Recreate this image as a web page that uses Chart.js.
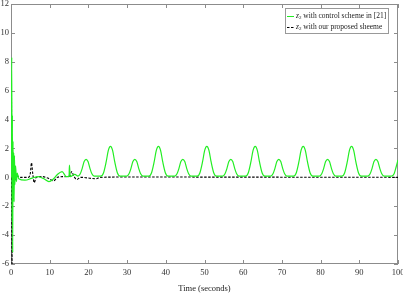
<!DOCTYPE html>
<html lang="en">
<head>
  <meta charset="UTF-8">
  <title>z2 response</title>
  <script src="https://cdn.jsdelivr.net/npm/chart.js"></script>
  <style>
    html, body { margin: 0; padding: 0; background: #fff; }
    #wrap { position: relative; width: 403px; height: 294px; }
  </style>
</head>
<body>
  <div id="wrap"><canvas id="c"></canvas></div>
  <script>
    // z2 with control scheme in [21] (green)
    const greenTime = [
      0, 0.2, 0.28, 0.36, 0.44, 0.52, 0.6, 0.7, 0.8, 0.9, 1.0, 1.2, 1.4, 1.6, 2.0, 3.6, 5.5, 7.0, 8.5, 9.8, 11.0, 12.0, 13.2, 14.3, 15.0, 15.1, 15.3, 16.5,
      17.3, 17.9, 18.4, 18.9, 19.4, 19.9, 20.4, 20.9, 21.5,
      23.2, 23.9, 24.6, 25.15, 25.7, 26.25, 26.8, 27.5, 28.2,
      29.9, 30.5, 31.0, 31.5, 32.0, 32.5, 33.0, 33.5, 34.1,
      35.6, 36.3, 37.0, 37.55, 38.1, 38.65, 39.2, 39.9, 40.6,
      42.3, 42.9, 43.4, 43.9, 44.4, 44.9, 45.4, 45.9, 46.5,
      48.1, 48.8, 49.5, 50.05, 50.6, 51.15, 51.7, 52.4, 53.1,
      54.7, 55.3, 55.8, 56.3, 56.8, 57.3, 57.8, 58.3, 58.9,
      60.6, 61.3, 62.0, 62.55, 63.1, 63.65, 64.2, 64.9, 65.6,
      67.1, 67.7, 68.2, 68.7, 69.2, 69.7, 70.2, 70.7, 71.3,
      73.0, 73.7, 74.4, 74.95, 75.5, 76.05, 76.6, 77.3, 78.0,
      79.7, 80.3, 80.8, 81.3, 81.8, 82.3, 82.8, 83.3, 83.9,
      85.5, 86.2, 86.9, 87.45, 88.0, 88.55, 89.1, 89.8, 90.5,
      92.2, 92.8, 93.3, 93.8, 94.3, 94.8, 95.3, 95.8, 96.4,
      98.3, 99.0, 99.5, 100
    ];
    const greenValue = [
      0, 8.3, -3.0, 4.3, -5.2, 2.5, -1.5, 1.7, -1.7, 1.5, -0.5, 0.8, -0.3, 0.3, -0.1, -0.2, -0.05, 0.05, -0.1, -0.3, -0.1, 0.2, 0.4, 0.05, 0.05, 0.85, 0.05, 0.2,
      0.08, 0.25, 0.62, 1.09, 1.25, 1.09, 0.62, 0.25, 0.08,
      0.08, 0.3, 1.08, 1.87, 2.15, 1.87, 1.08, 0.3, 0.08,
      0.08, 0.25, 0.62, 1.09, 1.25, 1.09, 0.62, 0.25, 0.08,
      0.08, 0.3, 1.08, 1.87, 2.15, 1.87, 1.08, 0.3, 0.08,
      0.08, 0.25, 0.62, 1.09, 1.25, 1.09, 0.62, 0.25, 0.08,
      0.08, 0.3, 1.08, 1.87, 2.15, 1.87, 1.08, 0.3, 0.08,
      0.08, 0.25, 0.62, 1.09, 1.25, 1.09, 0.62, 0.25, 0.08,
      0.08, 0.3, 1.08, 1.87, 2.15, 1.87, 1.08, 0.3, 0.08,
      0.08, 0.25, 0.62, 1.09, 1.25, 1.09, 0.62, 0.25, 0.08,
      0.08, 0.3, 1.08, 1.87, 2.15, 1.87, 1.08, 0.3, 0.08,
      0.08, 0.25, 0.62, 1.09, 1.25, 1.09, 0.62, 0.25, 0.08,
      0.08, 0.3, 1.08, 1.87, 2.15, 1.87, 1.08, 0.3, 0.08,
      0.08, 0.25, 0.62, 1.09, 1.25, 1.09, 0.62, 0.25, 0.08,
      0.08, 0.25, 0.7, 1.2
    ];

    // z2 with our proposed scheme (black dashed)
    const dashTime = [0, 0.1, 0.25, 0.4, 0.5, 0.7, 1.0, 1.5, 2.5, 4.5, 5.0, 5.3, 5.6, 6.0, 6.5, 8.0, 9.5, 11.0, 12.0, 13.5, 15.2, 15.7, 16.2, 17.0, 18.0, 22.0, 23.0, 30.0, 100];
    const dashValue = [0, 6.5, -6.5, 2.0, -1.0, 0.5, -0.2, 0.1, 0, 0, 0.3, 1.0, 0.3, -0.37, 0, 0.05, -0.05, -0.25, 0, 0.05, 0.1, 0.4, 0.1, -0.15, 0, -0.1, 0, 0.02, 0];

    const xTicks = [0, 10, 20, 30, 40, 50, 60, 70, 80, 90, 100];
    const yTicks = [-6, -4, -2, 0, 2, 4, 6, 8, 10, 12];

    const legendLabels = [' with control scheme in [21]', ' with our proposed sheeme'];
    const serif = '"Liberation Serif", "DejaVu Serif", serif';

    function toPoints(t, v) {
      return t.map((x, i) => ({ x: x, y: v[i] }));
    }

    // box + inward ticks under the lines, legend on top (MATLAB style)
    const framePlugin = {
      id: 'frame',
      beforeDatasetsDraw(chart) {
        const ctx = chart.ctx;
        const a = chart.chartArea;
        const xs = chart.scales.x, ys = chart.scales.y;
        ctx.save();
        ctx.strokeStyle = '#8c8c8c';
        ctx.lineWidth = 1;
        ctx.strokeRect(a.left + 0.5, a.top + 0.5, a.right - a.left - 1, a.bottom - a.top - 1);
        ctx.beginPath();
        xTicks.forEach(t => {
          const px = Math.round(xs.getPixelForValue(t)) + 0.5;
          ctx.moveTo(px, a.bottom); ctx.lineTo(px, a.bottom - 4);
          ctx.moveTo(px, a.top); ctx.lineTo(px, a.top + 4);
        });
        yTicks.forEach(t => {
          const py = Math.round(ys.getPixelForValue(t)) + 0.5;
          ctx.moveTo(a.left, py); ctx.lineTo(a.left + 4, py);
          ctx.moveTo(a.right, py); ctx.lineTo(a.right - 4, py);
        });
        ctx.stroke();
        ctx.restore();
      },
      afterDraw(chart) {
        const ctx = chart.ctx;
        ctx.save();
        const lx = 285, ly = 8, lw = 103, lh = 25;
        ctx.fillStyle = '#fff';
        ctx.fillRect(lx, ly, lw, lh);
        ctx.strokeStyle = '#999';
        ctx.lineWidth = 1;
        ctx.strokeRect(lx + 0.5, ly + 0.5, lw, lh);
        const rows = [ly + 8, ly + 19];
        const colors = ['#22ee22', '#000'];
        rows.forEach((ry, i) => {
          ctx.beginPath();
          ctx.strokeStyle = colors[i];
          ctx.setLineDash(i === 1 ? [2.5, 1.5] : []);
          ctx.moveTo(lx + 2, ry + 0.5); ctx.lineTo(lx + 9, ry + 0.5);
          ctx.stroke();
          ctx.setLineDash([]);
          ctx.fillStyle = '#222';
          ctx.textBaseline = 'middle';
          ctx.font = 'italic 7.5px ' + serif;
          ctx.fillText('z', lx + 11, ry);
          let w = ctx.measureText('z').width;
          ctx.font = '5px ' + serif;
          ctx.fillText('2', lx + 11 + w, ry + 2);
          w += ctx.measureText('2').width;
          ctx.font = '7.5px ' + serif;
          ctx.fillText(legendLabels[i], lx + 11 + w, ry);
        });
        ctx.restore();
      }
    };

    new Chart(document.getElementById('c'), {
      type: 'line',
      data: {
        datasets: [
          {
            label: 'z2 with control scheme in [21]',
            data: toPoints(greenTime, greenValue),
            borderColor: '#22ee22',
            borderWidth: 1.2,
            pointRadius: 0,
            cubicInterpolationMode: 'monotone'
          },
          {
            label: 'z2 with our proposed sheeme',
            data: toPoints(dashTime, dashValue),
            borderColor: '#000',
            borderWidth: 1.1,
            borderDash: [2.5, 1.5],
            pointRadius: 0,
            cubicInterpolationMode: 'monotone'
          }
        ]
      },
      options: {
        responsive: true,
        maintainAspectRatio: false,
        animation: false,
        layout: { padding: { top: 4, right: 5, left: 0, bottom: 0 } },
        plugins: { legend: { display: false }, tooltip: { enabled: false } },
        scales: {
          x: {
            type: 'linear',
            min: 0, max: 100,
            afterBuildTicks: s => { s.ticks = xTicks.map(v => ({ value: v })); },
            afterFit: s => { s.height = 30; s.paddingLeft = 0; s.paddingRight = 0; },
            grid: { display: false, drawTicks: false },
            border: { display: false },
            ticks: { color: '#333', font: { family: serif, size: 8.5 }, padding: 4, maxRotation: 0 },
            title: { display: true, text: 'Time (seconds)', color: '#222', font: { family: serif, size: 8.5 }, padding: { top: 2, bottom: 0 } }
          },
          y: {
            type: 'linear',
            min: -6, max: 12,
            afterBuildTicks: s => { s.ticks = yTicks.map(v => ({ value: v })); },
            afterFit: s => { s.width = 11; s.paddingTop = 0; s.paddingBottom = 0; },
            grid: { display: false, drawTicks: false },
            border: { display: false },
            ticks: { color: '#333', font: { family: serif, size: 8.5 }, padding: 2 }
          }
        }
      },
      plugins: [framePlugin]
    });
  </script>
</body>
</html>
